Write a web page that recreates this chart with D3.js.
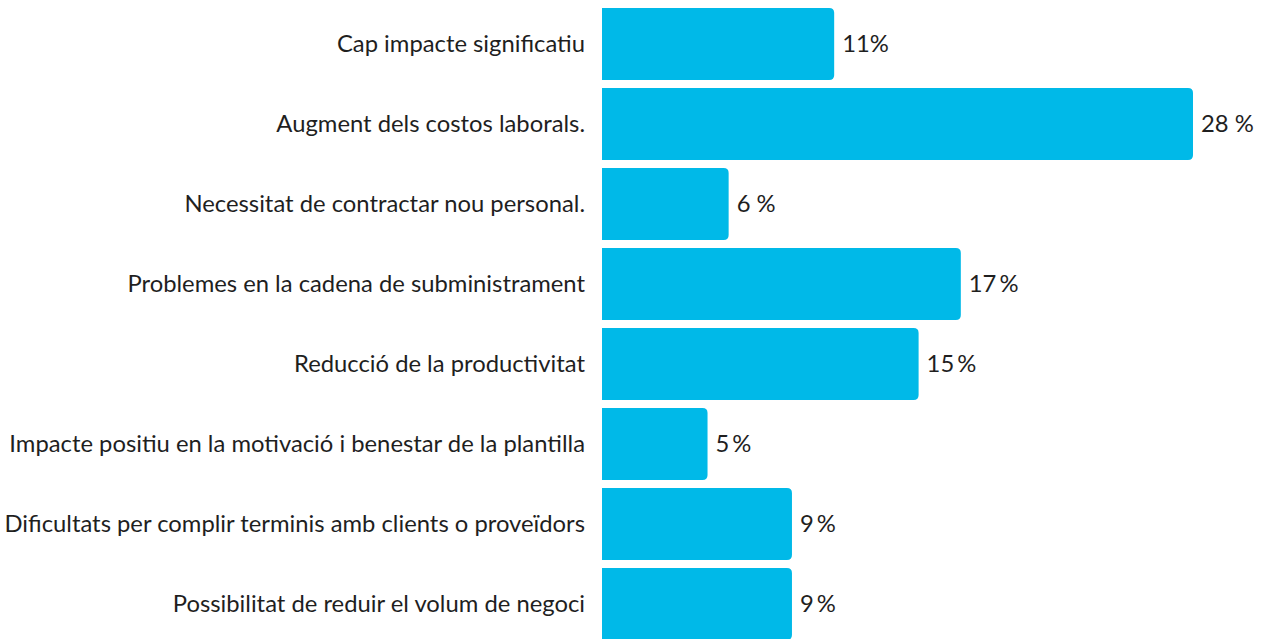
<!DOCTYPE html>
<html><head><meta charset="utf-8">
<script src="https://cdn.jsdelivr.net/npm/d3@7"></script>
<style>html,body{margin:0;padding:0;background:#fff;}svg{display:block;}</style>
</head><body>
<svg id="c" width="1262" height="639"></svg>
<script>
const categories = [
  "Cap impacte significatiu",
  "Augment dels costos laborals.",
  "Necessitat de contractar nou personal.",
  "Problemes en la cadena de subministrament",
  "Reducció de la productivitat",
  "Impacte positiu en la motivació i benestar de la plantilla",
  "Dificultats per complir terminis amb clients o proveïdors",
  "Possibilitat de reduir el volum de negoci"
];
const values = [11, 28, 6, 17, 15, 5, 9, 9];
const valueLabels = ["11%", "28 %", "6 %", "17\u2009%", "15\u2009%", "5\u2009%", "9\u2009%", "9\u2009%"];

const svg = d3.select("#c");
const x0 = 602;
const x = d3.scaleLinear().domain([0, 28]).range([x0, 1193]);
const y = d3.scaleBand().domain(categories).range([0, 640]).paddingInner(0.1).paddingOuter(0.05).align(1);
const r = 5;
const color = "#00b9e8";
const font = "Lato, 'Source Sans Pro', sans-serif";
const fs = 23.8;

function barPath(x1, x2, y1, h) {
  const w = x2 - x1;
  const rr = Math.min(r, w);
  return `M${x1},${y1}H${x2 - rr}Q${x2},${y1} ${x2},${y1 + rr}V${y1 + h - rr}Q${x2},${y1 + h} ${x2 - rr},${y1 + h}H${x1}Z`;
}

const g = svg.append("g");
categories.forEach((c, i) => {
  const yy = y(c), h = y.bandwidth();
  g.append("path").attr("d", barPath(x(0), x(values[i]), yy, h)).attr("fill", color);
  g.append("text").attr("x", x0 - 17).attr("y", yy + h / 2).attr("dy", "0.35em")
    .attr("text-anchor", "end").attr("font-family", font).attr("font-size", fs)
    .attr("fill", "#1f1f1f").text(c);
  g.append("text").attr("x", x(values[i]) + 8).attr("y", yy + h / 2).attr("dy", "0.35em")
    .attr("font-family", font).attr("font-size", fs).attr("fill", "#1f1f1f").text(valueLabels[i]);
});
</script>
</body></html>
